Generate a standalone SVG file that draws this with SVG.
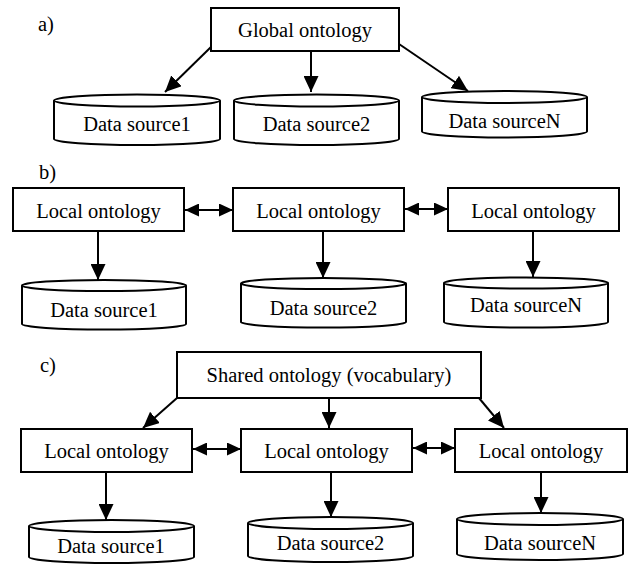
<svg xmlns="http://www.w3.org/2000/svg" width="629" height="565" viewBox="0 0 629 565">
<style>
  .box{fill:#fff;stroke:#000;stroke-width:2}
  .cyl{fill:#fff;stroke:#000;stroke-width:2}
  .t{font-family:"Liberation Serif","Times New Roman",serif;font-size:20.5px;fill:#000;text-anchor:middle}
  .lbl{font-family:"Liberation Serif","Times New Roman",serif;font-size:20.5px;fill:#000}
  .c{stroke:#000;stroke-width:2;fill:none}
</style>
<defs>
  <marker id="ah" markerUnits="userSpaceOnUse" markerWidth="16" markerHeight="15" viewBox="0 0 16 15" refX="16" refY="7.5" orient="auto-start-reverse">
    <path d="M0,0 L16,7.5 L0,15 z" fill="#000"/>
  </marker>
  <marker id="ah2" markerUnits="userSpaceOnUse" markerWidth="14" markerHeight="13" viewBox="0 0 14 13" refX="14" refY="6.5" orient="auto-start-reverse">
    <path d="M0,0 L14,6.5 L0,13 z" fill="#000"/>
  </marker>
</defs>
<rect width="629" height="565" fill="#fff"/>

<text class="lbl" x="38" y="31">a)</text>
<text class="lbl" x="39" y="179">b)</text>
<text class="lbl" x="40" y="372">c)</text>

<g id="connectors">
  <!-- a -->
  <line class="c" x1="211" y1="47" x2="165" y2="92" marker-end="url(#ah)"/>
  <line class="c" x1="311" y1="51" x2="311" y2="92" marker-end="url(#ah)"/>
  <line class="c" x1="399" y1="44" x2="468" y2="91" marker-end="url(#ah)"/>
  <!-- b -->
  <line class="c" x1="185" y1="210" x2="233" y2="210" marker-start="url(#ah2)" marker-end="url(#ah2)"/>
  <line class="c" x1="405" y1="209" x2="448" y2="209" marker-start="url(#ah2)" marker-end="url(#ah2)"/>
  <line class="c" x1="98" y1="231" x2="98" y2="280" marker-end="url(#ah)"/>
  <line class="c" x1="323" y1="231" x2="323" y2="278" marker-end="url(#ah)"/>
  <line class="c" x1="533" y1="231" x2="533" y2="277" marker-end="url(#ah)"/>
  <!-- c -->
  <line class="c" x1="177" y1="398" x2="143" y2="428" marker-end="url(#ah)"/>
  <line class="c" x1="329" y1="398" x2="329" y2="428" marker-end="url(#ah)"/>
  <line class="c" x1="479" y1="398" x2="504" y2="428" marker-end="url(#ah)"/>
  <line class="c" x1="193" y1="449" x2="241" y2="449" marker-start="url(#ah2)" marker-end="url(#ah2)"/>
  <line class="c" x1="413" y1="448" x2="455" y2="448" marker-start="url(#ah2)" marker-end="url(#ah2)"/>
  <line class="c" x1="106" y1="472" x2="106" y2="520" marker-end="url(#ah)"/>
  <line class="c" x1="331" y1="472" x2="331" y2="517" marker-end="url(#ah)"/>
  <line class="c" x1="541" y1="472" x2="541" y2="513" marker-end="url(#ah)"/>
</g>

<!-- a) -->
<g id="a-global">
  <rect class="box" x="211" y="8" width="188" height="43"/>
  <text class="t" x="305" y="37">Global ontology</text>
</g>
<g id="a-ds1">
  <path class="cyl" d="M54,100.5 V139 A83,6 0 0 0 220,139 V100.5"/>
  <ellipse class="cyl" cx="137" cy="100.5" rx="83" ry="6"/>
  <text class="t" x="137" y="131">Data source1</text>
</g>
<g id="a-ds2">
  <path class="cyl" d="M234,100.5 V139 A82.5,6 0 0 0 399,139 V100.5"/>
  <ellipse class="cyl" cx="316.5" cy="100.5" rx="82.5" ry="6"/>
  <text class="t" x="316.5" y="131">Data source2</text>
</g>
<g id="a-dsn">
  <path class="cyl" d="M422,97 V131.5 A82.5,6 0 0 0 587,131.5 V97"/>
  <ellipse class="cyl" cx="504.5" cy="97" rx="82.5" ry="6"/>
  <text class="t" x="504.5" y="128">Data sourceN</text>
</g>

<!-- b) -->
<g id="b-local1">
  <rect class="box" x="13" y="188" width="171" height="43"/>
  <text class="t" x="98.5" y="218">Local ontology</text>
</g>
<g id="b-local2">
  <rect class="box" x="233" y="188" width="171" height="43"/>
  <text class="t" x="318.5" y="218">Local ontology</text>
</g>
<g id="b-local3">
  <rect class="box" x="448" y="188" width="171" height="43"/>
  <text class="t" x="533.5" y="218">Local ontology</text>
</g>
<g id="b-ds1">
  <path class="cyl" d="M22,285.5 V324 A82,5.5 0 0 0 186,324 V285.5"/>
  <ellipse class="cyl" cx="104" cy="285.5" rx="82" ry="5.5"/>
  <text class="t" x="104" y="317">Data source1</text>
</g>
<g id="b-ds2">
  <path class="cyl" d="M241,283.5 V322 A82.5,5.5 0 0 0 406,322 V283.5"/>
  <ellipse class="cyl" cx="323.5" cy="283.5" rx="82.5" ry="5.5"/>
  <text class="t" x="323.5" y="315">Data source2</text>
</g>
<g id="b-dsn">
  <path class="cyl" d="M444,283 V322 A82,5.5 0 0 0 608,322 V283"/>
  <ellipse class="cyl" cx="526" cy="283" rx="82" ry="5.5"/>
  <text class="t" x="526" y="312">Data sourceN</text>
</g>

<!-- c) -->
<g id="c-shared">
  <rect class="box" x="177" y="352" width="304" height="46"/>
  <text class="t" x="329" y="382">Shared ontology (vocabulary)</text>
</g>
<g id="c-local1">
  <rect class="box" x="21" y="429" width="171" height="43"/>
  <text class="t" x="106.5" y="458">Local ontology</text>
</g>
<g id="c-local2">
  <rect class="box" x="241" y="429" width="171" height="43"/>
  <text class="t" x="326.5" y="458">Local ontology</text>
</g>
<g id="c-local3">
  <rect class="box" x="455" y="429" width="172" height="43"/>
  <text class="t" x="541" y="458">Local ontology</text>
</g>
<g id="c-ds1">
  <path class="cyl" d="M29,526 V557 A82.5,6 0 0 0 194,557 V526"/>
  <ellipse class="cyl" cx="111.5" cy="526" rx="82.5" ry="6"/>
  <text class="t" x="111" y="553">Data source1</text>
</g>
<g id="c-ds2">
  <path class="cyl" d="M248,523 V556 A82.5,6 0 0 0 413,556 V523"/>
  <ellipse class="cyl" cx="330.5" cy="523" rx="82.5" ry="6"/>
  <text class="t" x="330.5" y="550">Data source2</text>
</g>
<g id="c-dsn">
  <path class="cyl" d="M457,519 V554 A83,6 0 0 0 623,554 V519"/>
  <ellipse class="cyl" cx="540" cy="519" rx="83" ry="6"/>
  <text class="t" x="540" y="550">Data sourceN</text>
</g>
</svg>
